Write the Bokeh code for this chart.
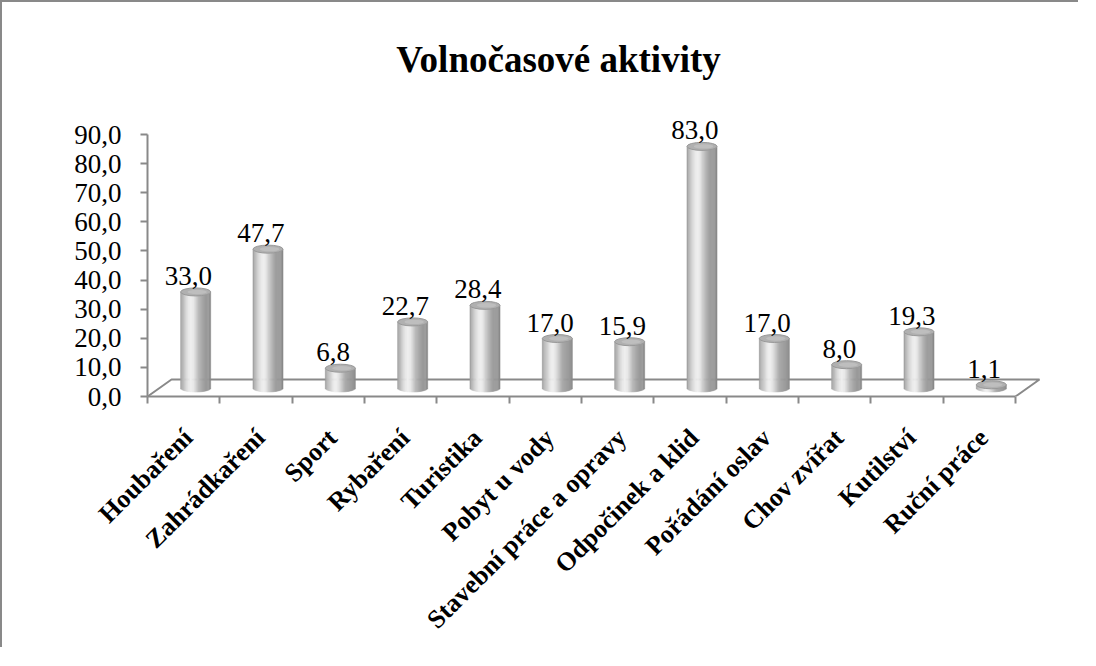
import math
from bokeh.plotting import figure
from bokeh.models import Range1d, LinearAxis, FixedTicker, ColumnDataSource, Label
from bokeh.core.properties import value
from bokeh.embed import file_html
from bokeh.resources import INLINE

# ---------------- data ----------------
categories = ["Houbaření", "Zahrádkaření", "Sport", "Rybaření", "Turistika",
              "Pobyt u vody", "Stavební práce a opravy", "Odpočinek a klid",
              "Pořádání oslav", "Chov zvířat", "Kutilství", "Ruční práce"]
values = [33.0, 47.7, 6.8, 22.7, 28.4, 17.0, 15.9, 83.0, 17.0, 8.0, 19.3, 1.1]
y_ticks = [0, 10, 20, 30, 40, 50, 60, 70, 80, 90]
y_tick_labels = ["0,0", "10,0", "20,0", "30,0", "40,0", "50,0", "60,0", "70,0", "80,0", "90,0"]
title_text = "Volnočasové aktivity"

# ---------------- layout constants (pixels) ----------------
FRAME_W = 931
LEFT = 145                 # space left of the frame (y axis position)
FLOOR = 394                # frame height = front edge of the floor
BOTTOM = 250
PX_X = 72.333              # px per category
PX_Y = 2.9111              # px per value unit
DEPTH_DX = 24 / PX_X       # 3D depth offset (data units)
DEPTH_DY = 17 / PX_Y
R = 15 / PX_X              # cylinder radius
E = 4 / PX_Y               # ellipse half height
FONT = "Liberation Serif"
GRAY = "#898989"

n = len(categories)
xmax = FRAME_W / PX_X
ymax = FLOOR / PX_Y

p = figure(frame_width=FRAME_W, frame_height=FLOOR,
           x_range=Range1d(0, xmax), y_range=Range1d(0, ymax),
           output_backend="svg", toolbar_location=None, x_axis_type=None, y_axis_type=None,
           min_border_left=LEFT, min_border_right=0, min_border_top=0,
           min_border_bottom=BOTTOM)
p.outline_line_color = None
p.background_fill_color = "white"
p.border_fill_color = "white"
p.styles = {"border-left": "2px solid " + GRAY, "border-top": "2px solid " + GRAY}

# y axis
yaxis = LinearAxis(ticker=FixedTicker(ticks=y_ticks), bounds=(0, 90))
yaxis.major_label_overrides = {t: lab for t, lab in zip(y_ticks, y_tick_labels)}
yaxis.axis_line_color = GRAY
yaxis.axis_line_width = 2
yaxis.major_tick_line_color = GRAY
yaxis.major_tick_line_width = 2
yaxis.major_tick_out = 7
yaxis.major_tick_in = 0
yaxis.minor_tick_line_color = None
yaxis.major_label_text_font = FONT
yaxis.major_label_text_font_size = "27px"
yaxis.major_label_text_color = "black"
yaxis.major_label_standoff = 19
p.add_layout(yaxis, "left")

# x axis: category labels at centres, tick marks at category boundaries
centers = [i + 0.56 for i in range(n)]
xaxis = LinearAxis(ticker=FixedTicker(ticks=centers, minor_ticks=list(range(n + 1))),
                   bounds=(0, n))
xaxis.major_label_overrides = {c: name for c, name in zip(centers, categories)}
xaxis.axis_line_color = GRAY
xaxis.axis_line_width = 2
xaxis.major_tick_line_color = None
xaxis.major_tick_out = 0
xaxis.major_tick_in = 0
xaxis.minor_tick_line_color = GRAY
xaxis.minor_tick_line_width = 2
xaxis.minor_tick_out = 7
xaxis.minor_tick_in = 0
xaxis.major_label_orientation = math.pi / 4
xaxis.major_label_standoff = 30
xaxis.major_label_text_font = FONT
xaxis.major_label_text_font_size = "26px"
xaxis.major_label_text_font_style = "bold"
xaxis.major_label_text_color = "black"
p.add_layout(xaxis, "below")

# floor (3D base): back edge and side edges
p.line([0, DEPTH_DX, n + DEPTH_DX, n], [0, DEPTH_DY, DEPTH_DY, 0],
       line_color=GRAY, line_width=2)

# cylinders
N = 26
ql, qr, qb, qt, qc = [], [], [], [], []
xcs, tops = [], []
for i, v in enumerate(values):
    xc = i + 0.5 + DEPTH_DX / 2
    base = DEPTH_DY / 2
    top = base + v
    xcs.append(xc)
    tops.append(top)
    for k in range(N):
        x0 = xc - R + k * 2 * R / N
        x1 = x0 + 2 * R / N
        t = ((x0 + x1) / 2 - xc) / R
        b = base - E * math.sqrt(max(0.0, 1 - t * t))
        br = 150 + 88 * math.exp(-((t + 0.3) / 0.55) ** 2)
        if abs(t) > 0.9:
            br -= 12
        c = int(round(br))
        ql.append(x0); qr.append(x1); qb.append(b); qt.append(top)
        qc.append("#%02x%02x%02x" % (c, c, c))

p.quad(left=ql, right=qr, bottom=qb, top=qt, fill_color=qc, line_color=qc, line_width=0.6)
p.ellipse(x=xcs, y=tops, width=2 * R, height=2 * E, fill_color="#b0b0b0",
          line_color="#999999", line_width=1)
p.ellipse(x=[x + R * 0.1 for x in xcs], y=tops, width=1.3 * R, height=1.1 * E,
          fill_color="#bebebe", line_color=None)

# data labels
lab_src = ColumnDataSource(dict(x=[x - 0.1 for x in xcs], y=[t + 16 / PX_Y for t in tops],
                                text=[("%.1f" % v).replace(".", ",") for v in values]))
p.text(x="x", y="y", text="text", source=lab_src, text_font=value(FONT),
       text_font_size="27px", text_align="center", text_baseline="alphabetic",
       text_color="black")

# title
p.add_layout(Label(x=(559 - 148) / PX_X, y=(397 - 60) / PX_Y, text=title_text,
                   text_align="center", text_baseline="middle", text_font=FONT,
                   text_font_size="37px", text_font_style="bold", text_color="black"))

open("out.html", "w").write(file_html(p, INLINE))
